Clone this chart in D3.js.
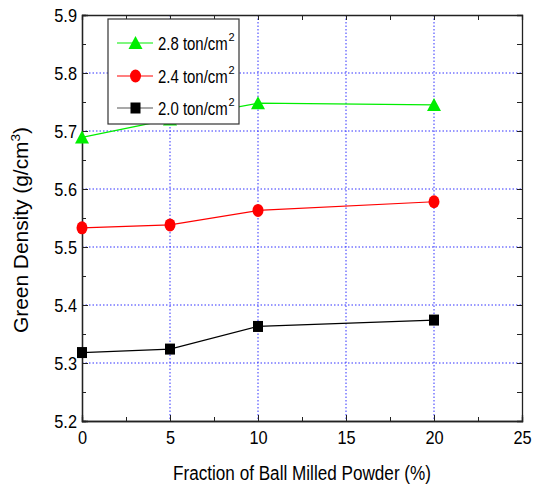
<!DOCTYPE html>
<html>
<head>
<meta charset="utf-8">
<script src="https://cdn.jsdelivr.net/npm/d3@7"></script>
<style>
  body { margin: 0; background: #fff; }
  text { font-family: "Liberation Sans", Arial, sans-serif; fill: #000; }
</style>
</head>
<body>
<svg id="chart" width="539" height="493"></svg>
<script>
// data
const fractions = [0, 5, 10, 20];
const density28 = [5.689, 5.72, 5.748, 5.745];
const density24 = [5.533, 5.538, 5.563, 5.578];
const density20 = [5.318, 5.324, 5.363, 5.374];
const seriesNames = ["2.8", "2.4", "2.0"];
const xTicks = [0, 5, 10, 15, 20, 25];
const yTicks = [5.2, 5.3, 5.4, 5.5, 5.6, 5.7, 5.8, 5.9];

const plotL = 82, plotR = 522, plotT = 15, plotB = 421;
const svg = d3.select("#chart");

const x = d3.scaleLinear().domain([0, 25]).range([plotL, plotR]);
const y = d3.scaleLinear().domain([5.2, 5.9]).range([plotB, plotT]);

// squeeze glyphs horizontally, the original uses a narrow looking face
function condense(sel, k) {
	sel.each(function () {
		const w = this.getComputedTextLength();
		d3.select(this).attr("textLength", w * k).attr("lengthAdjust", "spacingAndGlyphs");
	});
}

// grid
const grid = svg.append("g").attr("stroke", "#3030ff").attr("stroke-width", 1)
	.attr("stroke-dasharray", "1.5,2");
xTicks.slice(1, -1).forEach(t => {
	grid.append("line").attr("x1", x(t)).attr("x2", x(t)).attr("y1", plotT).attr("y2", plotB);
});
yTicks.slice(1, -1).forEach(t => {
	grid.append("line").attr("x1", plotL).attr("x2", plotR).attr("y1", y(t)).attr("y2", y(t));
});

// axes (ticks inward)
const xMinor = d3.range(0, 25.01, 2.5);
const yMinor = d3.range(5.2, 5.901, 0.05);

svg.append("g").attr("transform", `translate(0,${plotB})`)
	.call(d3.axisBottom(x).tickValues(xTicks).tickSize(-6).tickPadding(10).tickFormat(d3.format("d")));
svg.append("g").attr("transform", `translate(0,${plotB})`)
	.call(d3.axisBottom(x).tickValues(xMinor).tickSize(-4).tickFormat(""));
svg.append("g").attr("transform", `translate(${plotL},0)`)
	.call(d3.axisLeft(y).tickValues(yTicks).tickSize(-6).tickPadding(5).tickFormat(d3.format(".1f")));
svg.append("g").attr("transform", `translate(${plotL},0)`)
	.call(d3.axisLeft(y).tickValues(yMinor).tickSize(-4).tickFormat(""));
// top and right
svg.append("g").attr("transform", `translate(0,${plotT})`)
	.call(d3.axisTop(x).tickValues(xMinor).tickSize(-5).tickFormat(""));
svg.append("g").attr("transform", `translate(${plotR},0)`)
	.call(d3.axisRight(y).tickValues(yMinor).tickSize(-5).tickFormat(""));

svg.selectAll(".domain").attr("stroke", "#222").attr("stroke-width", 1.3);
svg.selectAll(".tick line").attr("stroke", "#222").attr("stroke-width", 1);
svg.selectAll(".tick text").attr("font-size", 19)
	.attr("font-family", "Liberation Sans, Arial, sans-serif")
	.call(condense, 0.86);

// axis titles
svg.append("text").attr("x", 173).attr("y", 480).attr("font-size", 20)
	.attr("textLength", 258).attr("lengthAdjust", "spacingAndGlyphs")
	.text("Fraction of Ball Milled Powder (%)");
const yt = svg.append("text").attr("transform", "translate(28,333) rotate(-90)")
	.attr("font-size", 20).attr("textLength", 206).attr("lengthAdjust", "spacingAndGlyphs");
yt.append("tspan").text("Green Density (g/cm");
yt.append("tspan").attr("font-size", 13).attr("dy", -8).text("3");
yt.append("tspan").attr("dy", 8).text(")");

// series
const series = [
	{ name: seriesNames[0], vals: density28, color: "#00ee00", shape: "tri" },
	{ name: seriesNames[1], vals: density24, color: "#ff0000", shape: "circ" },
	{ name: seriesNames[2], vals: density20, color: "#000000", shape: "sq" }
];
const line = d3.line().x((d, i) => x(fractions[i])).y(d => y(d));

function marker(g, shape, cx, cy, color) {
	if (shape === "tri") {
		g.append("path").attr("d", `M${cx},${cy - 7}L${cx + 7},${cy + 6}L${cx - 7},${cy + 6}Z`).attr("fill", color);
	} else if (shape === "circ") {
		g.append("ellipse").attr("cx", cx).attr("cy", cy).attr("rx", 5.5).attr("ry", 6.5).attr("fill", color);
	} else {
		g.append("rect").attr("x", cx - 5).attr("y", cy - 5.5).attr("width", 10).attr("height", 11).attr("fill", color);
	}
}

series.forEach(s => {
	const g = svg.append("g");
	g.append("path").datum(s.vals).attr("d", line).attr("fill", "none")
		.attr("stroke", s.color).attr("stroke-width", 1.2);
	s.vals.forEach((v, i) => marker(g, s.shape, x(fractions[i]), y(v), s.color));
});

// legend
const lg = svg.append("g");
lg.append("rect").attr("x", 108).attr("y", 19).attr("width", 131).attr("height", 105)
	.attr("fill", "#fff").attr("stroke", "#333").attr("stroke-width", 1.2);
const legendY = [43, 76, 108];
series.forEach((s, i) => {
	const ly = legendY[i];
	lg.append("line").attr("x1", 117).attr("x2", 153).attr("y1", ly).attr("y2", ly)
		.attr("stroke", s.color === "#000000" ? "#555" : s.color).attr("stroke-width", 1.2);
	marker(lg, s.shape, 135.5, ly, s.color);
	lg.append("text").attr("transform", `translate(158,${ly + 7}) scale(0.83,1)`)
		.attr("font-size", 18).text(`${s.name} ton/cm`);
	lg.append("text").attr("x", 228.5).attr("y", ly - 2).attr("font-size", 11).text("2");
});
</script>
</body>
</html>
